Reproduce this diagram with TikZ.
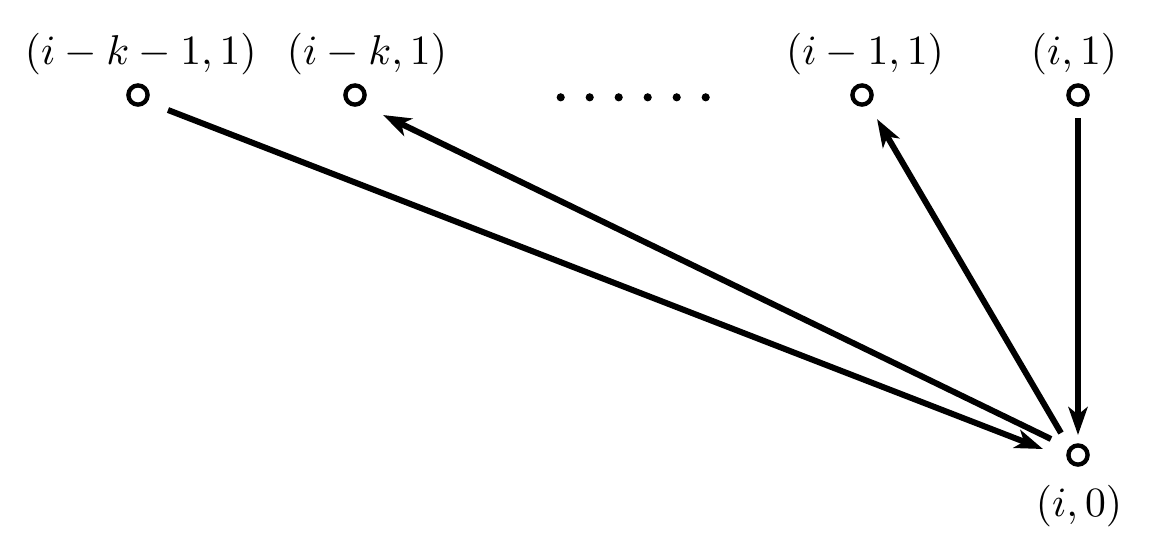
\documentclass[tikz,border=0pt]{standalone}
\usetikzlibrary{arrows.meta,calc}
\begin{document}
\begin{tikzpicture}[x=0.24pt,y=-0.24pt,
  vert/.style={circle,draw,line width=1.05pt,minimum size=4.6pt,inner sep=0pt},
  lab/.style={anchor=base,inner sep=0pt},
  arr/.style={line width=1.44pt,-{Stealth[length=6.7pt,width=4.6pt,inset=1.8pt]}}]
\useasboundingbox (0,0) rectangle (1167,553);
\node[vert] (a) at (138,95) {};
\node[vert] (b) at (355,95) {};
\node[vert] (d) at (862,95) {};
\node[vert] (f) at (1078,95) {};
\node[vert] (e) at (1078,455) {};
\node[lab] (la) at (140.8,64.2) {$(i-k-1,1)$};
\node[lab] (lb) at (367,64.2) {$(i-k,1)$};
\node[lab] (ld) at (865,64.2) {$(i-1,1)$};
\node[lab] (lf) at (1074,64.2) {$(i,1)$};
\node[lab] (le) at (1079,516) {$(i,0)$};
\foreach \i in {0,...,5} \fill (560.7+29*\i,97.3) circle[radius=0.98pt];
\draw[arr] ($(a)+(30,15)$) -- ($(e)+(-35,-6)$);
\draw[arr] ($(e)+(-27,-16)$) -- ($(b)+(28,20)$);
\draw[arr] ($(e)+(-17,-22)$) -- ($(d)+(15,24)$);
\draw[arr] ($(f)+(0,23)$) -- ($(e)+(0,-20)$);
\end{tikzpicture}
\end{document}
